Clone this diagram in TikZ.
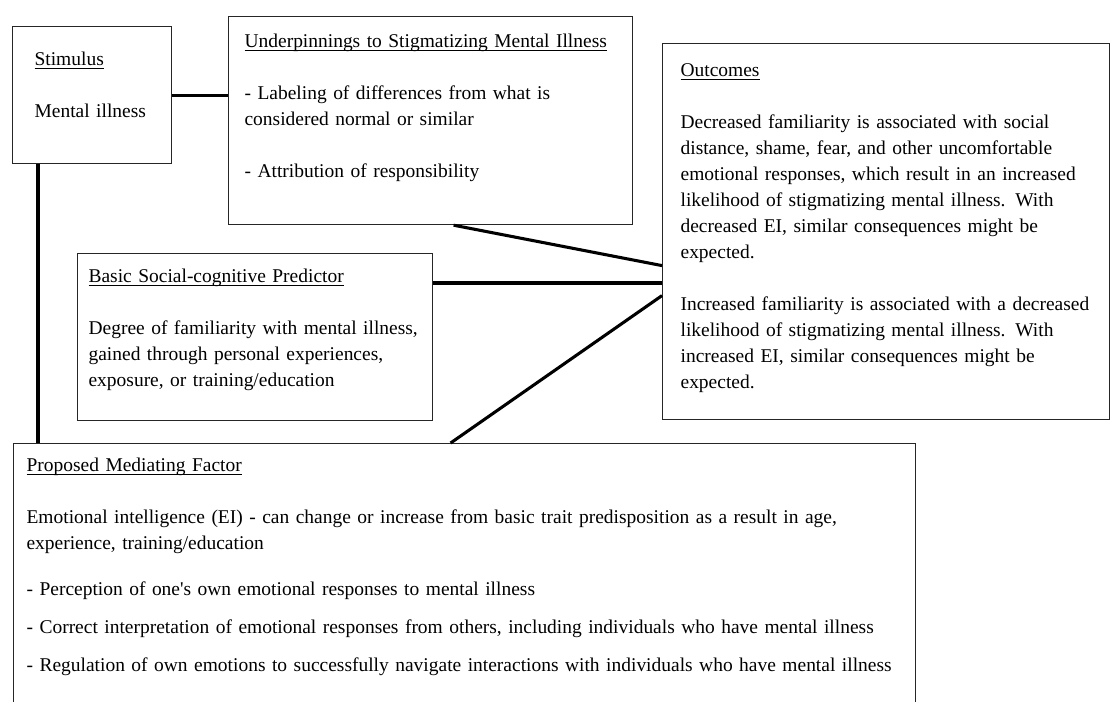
\documentclass[tikz,border=0pt]{standalone}
\usepackage{fontspec}
\setmainfont{Liberation Serif}
\usepackage{tikz}
\newsavebox{\ttlbox}
\newcommand{\ttl}[1]{\sbox{\ttlbox}{#1}\rlap{\rule[-2.2pt]{\wd\ttlbox}{0.75pt}}\usebox{\ttlbox}}
\newcommand{\nohyph}{\hyphenpenalty=10000\relax\exhyphenpenalty=10000\relax}
\tikzset{panel/.style={draw=black!85,line width=0.9pt,anchor=north west,align=left,inner ysep=0pt,
    font=\fontsize{14.6pt}{19.5pt}\selectfont\nohyph},
    link/.style={line width=2.3pt}}

\begin{document}
\begin{tikzpicture}[x=0.75pt,y=-0.75pt]
    \fill[white] (0,0) rectangle (1110,702);
    \clip (0,0) rectangle (1110,702);

    \node[panel,text width=86.25pt,inner xsep=16.5pt,text height=29.25pt,text depth=73.5pt]
        (stim) at (12,26) {\ttl{Stimulus}\\[19.5pt]Mental illness};
    \node[panel,text width=279pt,inner xsep=12pt,text height=23.25pt,text depth=132.75pt]
        (under) at (228,16) {\ttl{Underpinnings to Stigmatizing Mental Illness}\\[19.5pt]
        - Labeling of differences from what is\\
        considered normal or similar\\[19.5pt]
        - Attribution of responsibility};
    \node[panel,text width=308.25pt,inner xsep=13.5pt,text height=24.75pt,text depth=257.25pt]
        (outc) at (662,43) {\ttl{Outcomes}\\[19.5pt]
        Decreased familiarity is associated with social\\
        distance, shame, fear, and other uncomfortable\\
        emotional responses, which result in an increased\\
        likelihood of stigmatizing mental illness. With\\
        decreased EI, similar consequences might be\\
        expected.\\[19.5pt]
        Increased familiarity is associated with a decreased\\
        likelihood of stigmatizing mental illness. With\\
        increased EI, similar consequences might be\\
        expected.};
    \node[panel,text width=249.75pt,inner xsep=8.25pt,text height=21.75pt,text depth=103.5pt]
        (basic) at (77,253) {\ttl{Basic Social-cognitive Predictor}\\[19.5pt]
        Degree of familiarity with mental illness,\\
        gained through personal experiences,\\
        exposure, or training/education};
    \node[panel,text width=657pt,inner xsep=9.75pt,text height=21pt,text depth=194.25pt]
        (med) at (13,443) {\ttl{Proposed Mediating Factor}\\[19.5pt]
        Emotional intelligence (EI) - can change or increase from basic trait predisposition as a result in age,\\
        experience, training/education\\[15pt]
        - Perception of one\textquotesingle s own emotional responses to mental illness\\[9pt]
        - Correct interpretation of emotional responses from others, including individuals who have mental illness\\[9pt]
        - Regulation of own emotions to successfully navigate interactions with individuals who have mental illness};

    % connectors
    \draw[link] (stim.east) -- (stim.east -| under.west);
    \draw[link] ([xshift=19.5pt]stim.south west) -- ([xshift=19.5pt]stim.south west |- med.north);
    \draw[link] ([xshift=17.25pt]under.south) -- ([yshift=-25.5pt]outc.west);
    \draw[link] ([yshift=-22.5pt]basic.north east) -- ([yshift=-22.5pt]basic.north east -| outc.west);
    \draw[link] ([xshift=-10.5pt]med.north) -- ([yshift=-48pt]outc.west);
\end{tikzpicture}
\end{document}
